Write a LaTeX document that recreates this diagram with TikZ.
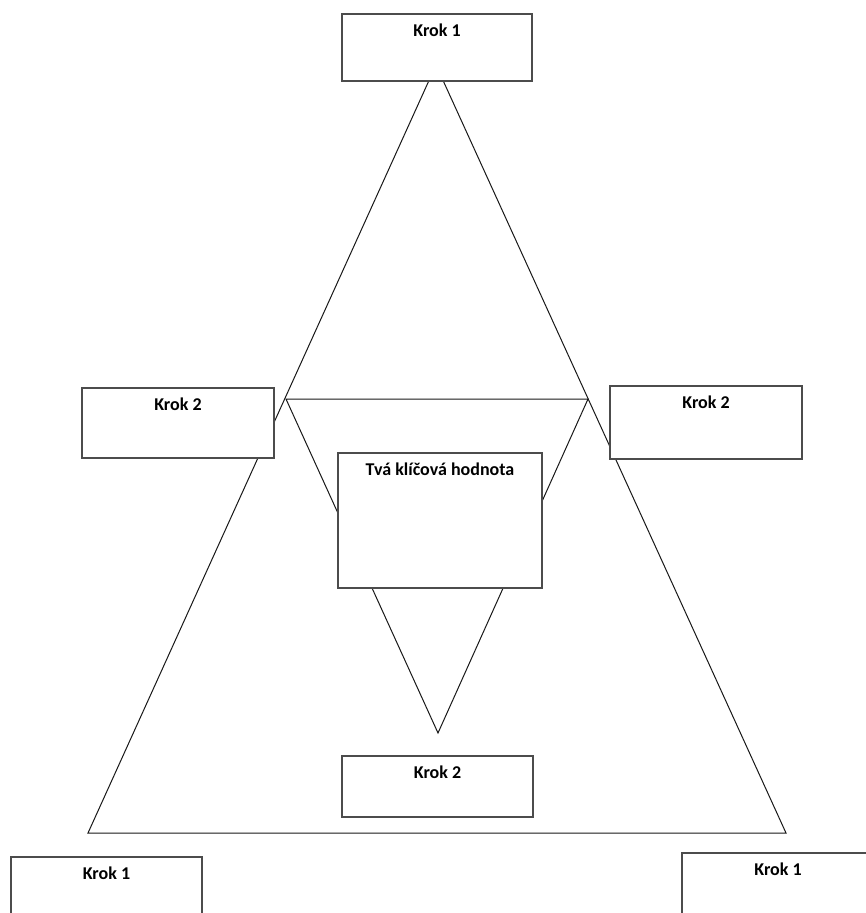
\documentclass[tikz,border=0pt]{standalone}
\usepackage{fontspec}
\setmainfont{Carlito}
\usepackage{tikz}

\begin{document}
\begin{tikzpicture}[x=1pt, y=-1pt]
        \tikzstyle{stepbox} = [rectangle, inner sep=0pt, minimum width=191pt, minimum height=67pt, draw=black!70, line width=1.2pt, fill=white]
        \tikzstyle{steptext} = [anchor=base, yshift=-23pt, font=\fontsize{18}{21}\selectfont\bfseries]
        \tikzstyle{edge} = [draw=black!90, line width=1pt, line join=miter]

        \clip (0,0) rectangle (866,913);
        \fill[white] (0,0) rectangle (866,913);

        % Corners
        \coordinate (apex) at (436,65);
        \coordinate (baseL) at (88,833);
        \coordinate (baseR) at (786,833);
        \coordinate (innerL) at (286,399);
        \coordinate (innerR) at (588,399);
        \coordinate (innerB) at (438,733);

        % Triangles
        \draw [edge] (apex) -- (baseL) -- (baseR) -- cycle;
        \draw [edge] (innerL) -- (innerR) -- (innerB) -- cycle;

        % Nodes
        \node (k1top) [stepbox, minimum width=190pt, label={[steptext]north:Krok 1}] at (437,47.5) {};
        \node (k2left) [stepbox, minimum width=192pt, minimum height=70pt, label={[steptext]north:Krok 2}] at (178,423) {};
        \node (k2right) [stepbox, minimum width=192pt, minimum height=73pt, label={[steptext]north:Krok 2}] at (706,422.5) {};
        \node (value) [stepbox, minimum width=204pt, minimum height=135pt, label={[steptext]north:Tvá klíčová hodnota}] at (440,520.5) {};
        \node (k2bottom) [stepbox, minimum height=61pt, label={[steptext]north:Krok 2}] at (437.5,786.5) {};
        \node (k1left) [stepbox, label={[steptext]north:Krok 1}] at (106.5,890.5) {};
        \node (k1right) [stepbox, minimum width=192pt, label={[steptext]north:Krok 1}] at (778,886.5) {};
    \end{tikzpicture}
\end{document}
